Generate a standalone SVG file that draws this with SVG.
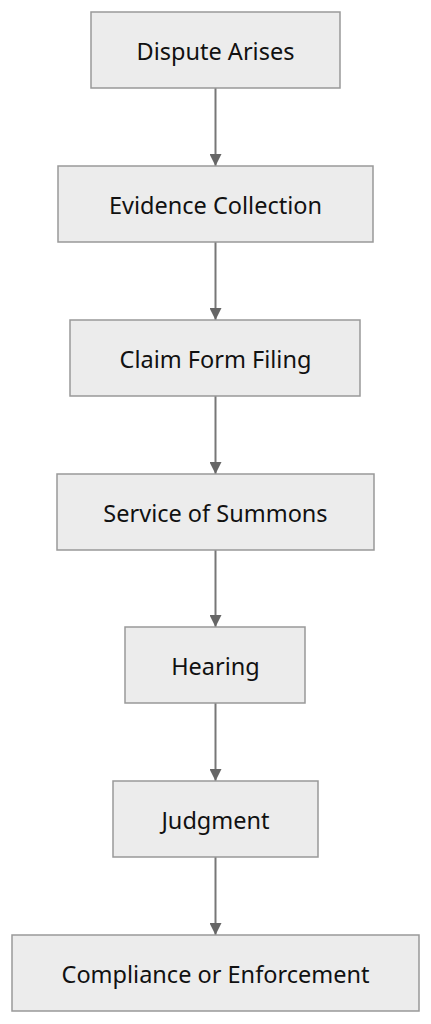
<svg xmlns="http://www.w3.org/2000/svg" width="431" height="1024" viewBox="0 0 431 1024">
<style>
.node rect{fill:#ececec;stroke:#999;stroke-width:1.5}
.node text{font-family:"Noto Sans","DejaVu Sans",sans-serif;font-size:23.5px;fill:#111;text-anchor:middle}
.edge{stroke:#777;stroke-width:2;fill:none}
</style>
<defs>
<marker id="arrow" viewBox="0 0 12 12" refX="12" refY="6" markerWidth="12" markerHeight="12" markerUnits="userSpaceOnUse" orient="auto">
<path d="M0,0 L12,6 L0,12 Z" fill="#666"/>
</marker>
</defs>
<rect width="431" height="1024" fill="#fff"/>
<g id="connectors">
<line class="edge" x1="215.5" y1="88" x2="215.5" y2="166" marker-end="url(#arrow)"/>
<line class="edge" x1="215.5" y1="242" x2="215.5" y2="320" marker-end="url(#arrow)"/>
<line class="edge" x1="215.5" y1="396" x2="215.5" y2="474" marker-end="url(#arrow)"/>
<line class="edge" x1="215.5" y1="550" x2="215.5" y2="627" marker-end="url(#arrow)"/>
<line class="edge" x1="215.5" y1="703" x2="215.5" y2="781" marker-end="url(#arrow)"/>
<line class="edge" x1="215.5" y1="857" x2="215.5" y2="935" marker-end="url(#arrow)"/>
</g>
<g id="n1" class="node"><rect x="91" y="12" width="249" height="76"/><text x="215.5" y="60">Dispute Arises</text></g>
<g id="n2" class="node"><rect x="58" y="166" width="315" height="76"/><text x="215.5" y="214">Evidence Collection</text></g>
<g id="n3" class="node"><rect x="70" y="320" width="290" height="76"/><text x="215.5" y="368">Claim Form Filing</text></g>
<g id="n4" class="node"><rect x="57" y="474" width="317" height="76"/><text x="215.5" y="522">Service of Summons</text></g>
<g id="n5" class="node"><rect x="125" y="627" width="180" height="76"/><text x="215.5" y="675">Hearing</text></g>
<g id="n6" class="node"><rect x="113" y="781" width="205" height="76"/><text x="215.5" y="829">Judgment</text></g>
<g id="n7" class="node"><rect x="12" y="935" width="407" height="76"/><text x="215.5" y="983">Compliance or Enforcement</text></g>
</svg>
